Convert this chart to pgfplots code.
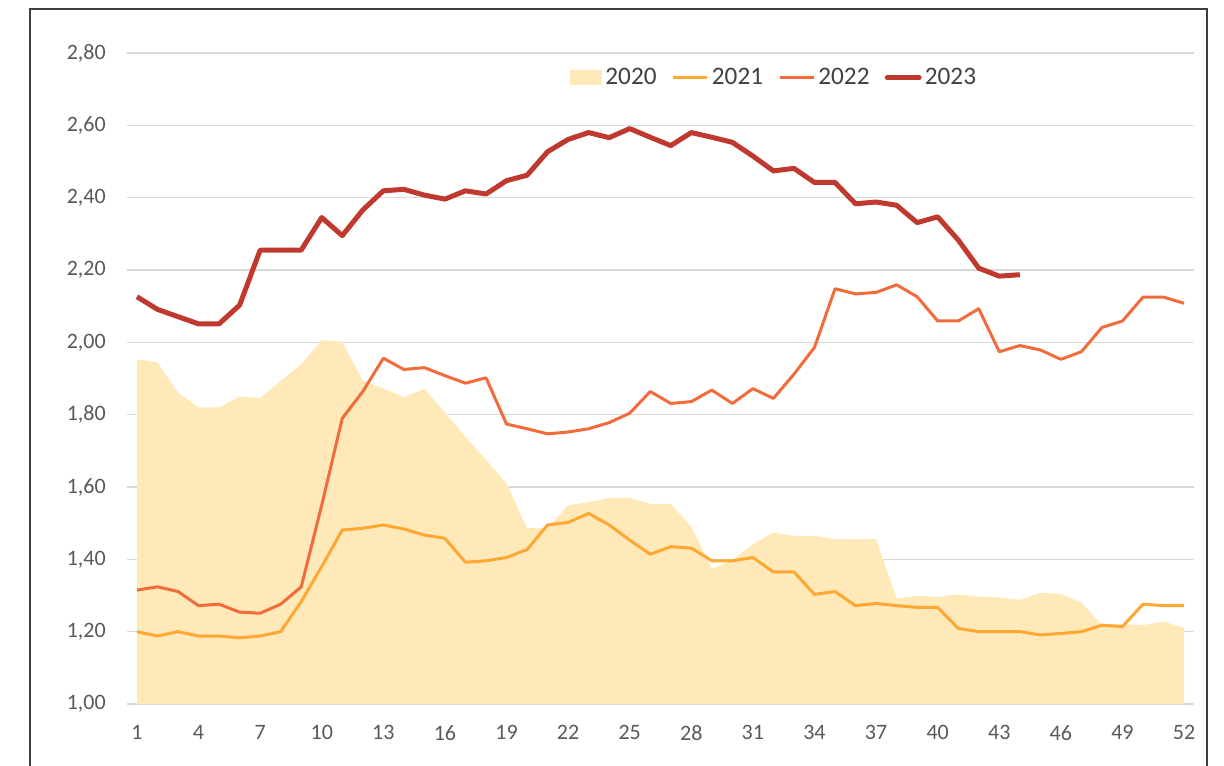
\documentclass[border=0pt]{standalone}
\usepackage{pgfplots}
\pgfplotsset{compat=1.18}
\usepackage{fontspec}
\setmainfont{Carlito}
\definecolor{c2020}{HTML}{FFE9B9}
\definecolor{c2021}{HTML}{FFA733}
\definecolor{c2022}{HTML}{F26B3A}
\definecolor{c2023}{HTML}{C0392F}
\definecolor{gridc}{HTML}{D9D9D9}
\definecolor{tickc}{HTML}{595959}
\definecolor{legc}{HTML}{404040}
\definecolor{framec}{HTML}{3F3F3F}
\pgfplotsset{
  lineleg/.style={legend image code/.code={\draw[##1] (0pt,0pt) -- (17pt,0pt);}},
  lineleground/.style={legend image code/.code={\draw[##1, line cap=round] (0pt,0pt) -- (16pt,0pt);}},
  arealeg/.style={legend image code/.code={\fill[##1] (0pt,-3.75pt) rectangle (16pt,3.75pt);}},
}
\begin{document}
\begin{tikzpicture}
\path[use as bounding box] (0,0) rectangle (612pt,382.5pt);
\draw[framec, line width=1pt] (14.75pt,-5pt) -- (14.75pt,378pt) -- (603.5pt,378pt) -- (603.5pt,-5pt);
\begin{axis}[
  at={(63.35pt,30.5pt)}, anchor=south west,
  scale only axis, width=533.8pt, height=325.5pt,
  xmin=0.5, xmax=52.5, ymin=1, ymax=2.8,
  xtick={1,4,...,52},
  ytick={1,1.2,...,2.81},
  major tick length=0pt,
  axis line style={draw=none},
  ymajorgrids, grid style={gridc, line width=0.75pt},
  /pgf/number format/assume math mode=true,
  xticklabel style={font=\fontsize{11}{13}\selectfont, text=tickc, inner sep=0pt, anchor=north, yshift=-10.5pt},
  yticklabel style={font=\fontsize{11}{13}\selectfont, text=tickc, inner sep=0pt, anchor=east, xshift=-10.3pt,
    /pgf/number format/.cd, fixed, fixed zerofill, precision=2, use comma},
  legend columns=4,
  legend style={at={(0.607,0.962)}, anchor=center, draw=none, fill=none,
    font=\fontsize{12.6}{15}\selectfont, text=legc,
    /tikz/every even column/.append style={column sep=6pt},
    nodes={inner xsep=1.6pt}},
]
\addplot[fill=c2020, draw=none, arealeg] coordinates {
(1,1.953) (2,1.945) (3,1.861) (4,1.820) (5,1.820) (6,1.850) (7,1.846) (8,1.893) (9,1.940) (10,2.006)
(11,2.001) (12,1.893) (13,1.873) (14,1.848) (15,1.872) (16,1.806) (17,1.739) (18,1.675) (19,1.610) (20,1.486)
(21,1.486) (22,1.550) (23,1.558) (24,1.570) (25,1.570) (26,1.553) (27,1.553) (28,1.490) (29,1.373) (30,1.398)
(31,1.442) (32,1.474) (33,1.465) (34,1.465) (35,1.456) (36,1.456) (37,1.456) (38,1.292) (39,1.299) (40,1.296)
(41,1.303) (42,1.297) (43,1.295) (44,1.288) (45,1.308) (46,1.304) (47,1.281) (48,1.218) (49,1.221) (50,1.218)
(51,1.228) (52,1.211)} \closedcycle;
\addlegendentry{2020}
\addplot[c2021, line width=1.5pt, line join=round, lineleg] coordinates {
(1,1.200) (2,1.188) (3,1.200) (4,1.188) (5,1.188) (6,1.183) (7,1.188) (8,1.200) (9,1.283) (10,1.380)
(11,1.481) (12,1.486) (13,1.495) (14,1.484) (15,1.467) (16,1.458) (17,1.392) (18,1.396) (19,1.405) (20,1.427)
(21,1.495) (22,1.502) (23,1.527) (24,1.495) (25,1.453) (26,1.414) (27,1.435) (28,1.431) (29,1.396) (30,1.396)
(31,1.405) (32,1.365) (33,1.365) (34,1.303) (35,1.311) (36,1.272) (37,1.278) (38,1.272) (39,1.267) (40,1.267)
(41,1.209) (42,1.200) (43,1.200) (44,1.200) (45,1.191) (46,1.195) (47,1.200) (48,1.218) (49,1.214) (50,1.276)
(51,1.272) (52,1.272)};
\addlegendentry{2021}
\addplot[c2022, line width=1.5pt, line join=round, lineleg] coordinates {
(1,1.315) (2,1.324) (3,1.311) (4,1.272) (5,1.276) (6,1.254) (7,1.251) (8,1.276) (9,1.324) (10,1.550)
(11,1.790) (12,1.864) (13,1.956) (14,1.925) (15,1.930) (16,1.908) (17,1.887) (18,1.902) (19,1.774) (20,1.761)
(21,1.747) (22,1.752) (23,1.761) (24,1.778) (25,1.804) (26,1.864) (27,1.831) (28,1.836) (29,1.868) (30,1.831)
(31,1.872) (32,1.845) (33,1.912) (34,1.986) (35,2.148) (36,2.134) (37,2.138) (38,2.159) (39,2.126) (40,2.059)
(41,2.059) (42,2.093) (43,1.974) (44,1.991) (45,1.979) (46,1.953) (47,1.974) (48,2.041) (49,2.059) (50,2.125)
(51,2.125) (52,2.108)};
\addlegendentry{2022}
\addplot[c2023, line width=2.5pt, line join=round, lineleground] coordinates {
(1,2.126) (2,2.091) (3,2.071) (4,2.051) (5,2.051) (6,2.103) (7,2.255) (8,2.255) (9,2.255) (10,2.345)
(11,2.295) (12,2.366) (13,2.419) (14,2.423) (15,2.407) (16,2.396) (17,2.419) (18,2.410) (19,2.447) (20,2.462)
(21,2.527) (22,2.561) (23,2.580) (24,2.566) (25,2.591) (26,2.567) (27,2.544) (28,2.580) (29,2.567) (30,2.553)
(31,2.515) (32,2.474) (33,2.481) (34,2.442) (35,2.442) (36,2.383) (37,2.388) (38,2.379) (39,2.331) (40,2.347)
(41,2.283) (42,2.205) (43,2.183) (44,2.187)};
\addlegendentry{2023}
\end{axis}
\end{tikzpicture}
\end{document}
